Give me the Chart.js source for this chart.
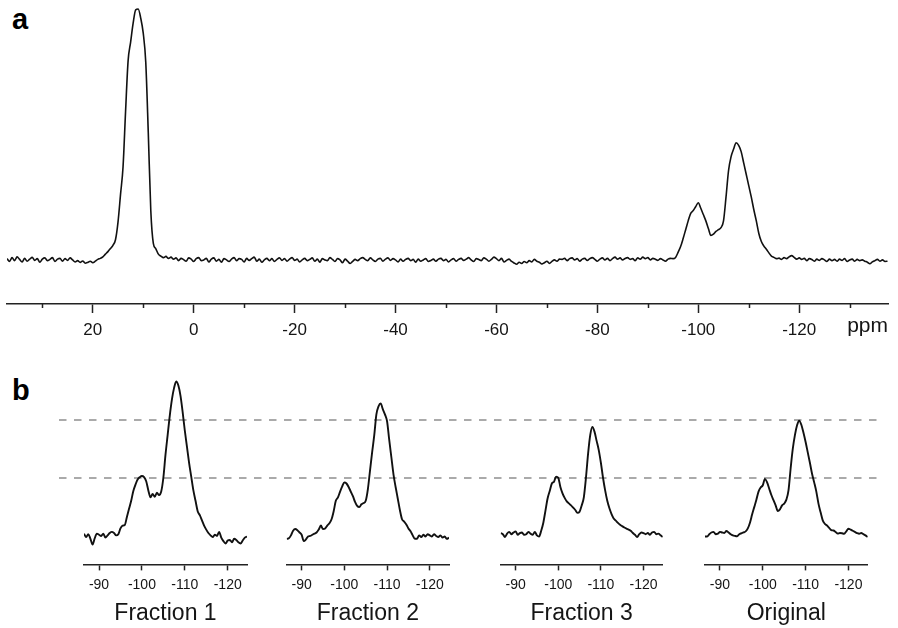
<!DOCTYPE html>
<html>
<head>
<meta charset="utf-8">
<title>29Si MAS NMR spectra</title>
<script src="https://cdn.jsdelivr.net/npm/chart.js@4.4.1/dist/chart.umd.min.js"></script>
<style>
  html, body { margin: 0; padding: 0; background: #fff; }
  #fig { position: relative; width: 898px; height: 628px; overflow: hidden; background: #fff;
         font-family: 'Liberation Sans', Arial, Helvetica, sans-serif; }
  #fig canvas { position: absolute; }
  .tag { position: absolute; left: 12px; font-weight: bold; font-size: 29px; line-height: 29px; color: #000; }
</style>
</head>
<body>
<div id="fig">
  <div class="tag" style="top:4.5px">a</div>
  <div class="tag" style="top:375.5px">b</div>
  <canvas id="specA" width="898" height="344" style="left:0;top:0"></canvas>
</div>
<script>
// ---------- data ----------
// Full spectrum: intensity sampled every 0.5 ppm from 37.0 down to -137.5 ppm
const ppmA0 = 37.0;
const ppmStepA = 0.5;
const spectrumA = [
  0.5, -0.6, 0.9, -0.3, 1.2, 0.2, -0.8, 0.6, -0.5, 0.3,
  1.0, -0.2, 0.5, -0.9, 0.3, 0.8, -0.3, 0.2, 0.9, -0.6,
  0.3, 0.6, -0.5, 0.5, -0.2, 0.8, 0.0, -0.8, -0.3, -1.0,
  -0.4, -1.3, -1.0, -0.5, -1.1, -0.5, 0.2, 0.6, 1.2, 2.3,
  3.3, 4.5, 5.8, 8.0, 15, 26, 37, 59, 79, 86.5,
  94, 99.3, 99.6, 96, 90, 78.5, 50.5, 19.5, 6.6, 4.4,
  2.3, 1.5, 0.9, 1.4, 0.6, 1.1, 0.3, 0.8, -0.3, 0.6,
  0.1, -0.5, 0.8, 0.3, -0.6, 0.5, 0.9, -0.3, 0.0, 0.6,
  -0.8, 0.3, 0.8, -0.5, 0.2, -0.9, 0.5, 0.0, -0.6, 0.3,
  0.9, -0.3, 0.5, 0.2, -0.8, 0.6, -0.2, 0.5, 1.1, -0.5,
  0.3, -0.9, 0.0, 0.6, -0.3, 0.5, -0.6, 0.2, 0.8, -0.2,
  0.5, -0.5, 0.3, 0.9, -0.2, 0.3, -0.8, 0.0, 0.6, -0.3,
  0.2, 0.8, -0.5, 0.3, -0.9, 0.5, 0.0, -0.3, 0.9, 0.2,
  -0.6, 0.5, 0.0, -1.1, 0.3, -0.5, -1.4, -0.6, 0.2, -0.3,
  0.5, 0.9, 0.2, -0.3, 0.8, 0.0, -0.6, 0.3, 0.6, -0.5,
  0.3, 0.8, -0.2, 0.5, 0.0, -0.8, 0.3, -0.5, 0.2, 0.6,
  -0.3, 0.2, -0.9, 0.3, -0.5, 0.0, 0.5, -0.6, -0.2, 0.3,
  -0.5, 0.3, 0.6, -0.3, 0.2, -0.8, 0.0, 0.5, -0.5, 0.2,
  0.6, -0.2, 0.3, 0.9, 0.0, -0.6, 0.5, 0.2, -0.3, 0.8,
  0.3, -0.5, 0.2, 1.1, 0.5, -0.3, 0.6, -0.8, -0.2, 0.3,
  -0.6, -1.2, -1.7, -0.9, -1.4, -0.6, -1.1, -0.3, -0.8, 0.2,
  -0.5, -0.9, -1.6, -1.1, -0.5, -1.4, -0.6, 0.0, -0.5, 0.3,
  0.2, 0.6, -0.3, 0.5, 0.8, 0.0, 0.5, -0.5, 0.3, 0.6,
  -0.2, 0.5, 0.9, 0.2, -0.5, 0.3, 0.8, 0.0, 0.6, -0.3,
  0.5, 1.1, 0.3, 0.8, 0.0, 0.6, 0.9, 0.2, 0.5, -0.3,
  0.8, 0.3, 1.1, 0.5, 0.9, 0.0, 0.6, 0.3, -0.2, 0.5,
  0.0, -0.5, 0.3, 0.6, 0.5, 1.0, 3.0, 5.3, 8.5, 12,
  15.5, 18.5, 19.6, 21.2, 22.7, 20.5, 18, 15.5, 12.5, 9.7,
  10.2, 11.3, 12, 12.8, 15.5, 25, 35.5, 41, 44, 46.5,
  45.5, 43, 38.5, 34, 29.5, 25, 20, 15.5, 10.5, 7.3,
  5.5, 4.2, 2.8, 1.5, 1.0, 0.5, 0.7, 0.2, 0.9, 0.5,
  1.2, 1.7, 1.0, 0.3, 0.8, 0.2, 0.6, -0.3, 0.5, 0.2,
  -0.5, 0.3, -0.2, 0.5, 0.0, -0.6, 0.3, -0.3, 0.2, -0.5,
  0.3, -0.2, 0.5, -0.6, 0.0, 0.3, -0.5, 0.2, -0.3, 0.0,
  -0.5, -0.9, -1.5, -0.8, -0.3, 0.2, -0.5, 0.0, -0.6, -0.5
];

// Q-region spectra: intensity sampled every 0.5 ppm from -86.5 down to -124.5 ppm
const ppmB0 = -86.5;
const ppmStepB = 0.5;
const fraction1 = [
  1.5, -1.5, 1, -3, -8, -2.5, 1.5, 0.5, -0.5, 1.5,
  -2, 0, 2, 3, 2, 0, 1, 6, 8.5, 9,
  16, 23, 30, 38.5, 44, 48.5, 50.5, 51.5, 50.5, 47,
  39, 33, 36, 33.5, 37, 35, 38, 50, 70, 87,
  104, 118, 128, 133.5, 130, 121, 107, 91, 77, 63,
  51, 39, 30, 21, 17.5, 13, 8.5, 5, 2, 0,
  -1.5, 0.5, -0.5, 3, -2, -5, -7, -4.5, -4, -6,
  -3, -4, -6, -7, -4.5, -2, -1
];
const fraction2 = [
  -3, -2.5, 0, 4, 5.5, 4.5, 2.5, 0.5, -5, -3.5,
  -1, -0.5, 0.5, 1.5, 2.5, 5, 8.5, 5.5, 6, 8.5,
  10.5, 14, 21, 30, 33, 38, 42.5, 46, 45, 42,
  38, 34, 29, 25.5, 24.5, 27, 28, 30, 40, 56,
  72, 87, 105, 112, 114.5, 109.5, 105, 99, 83, 68,
  53, 42, 32, 22, 14, 12, 9.5, 6, 3.5, 0,
  -3, -3, 0, -1.5, 0.5, -1, 1, 0, -1, 1,
  -0.5, -1.5, 0, -2, -1, -3, -2
];
const fraction3 = [
  2, 1, -1.5, 1.5, 3, 1, 2.5, 3.5, 0.5, 2,
  2.5, 0.5, 1, 3, 1.5, 0.5, 3, 0, -1, 4,
  11, 21.5, 32, 38.5, 45, 46.5, 51, 50, 42, 36.5,
  32.5, 29.5, 27.8, 26, 24, 22, 19.5, 20.5, 26, 33,
  50, 71, 87, 94, 90, 82, 74, 63, 50, 39,
  30, 23.5, 18.5, 14.7, 12.8, 10.8, 9.2, 8, 6.8, 5.8,
  5, 4, 2, 0.5, -1.4, 1, 2.5, 2, 1, 2,
  0.5, 2.5, 3, 1, 1.5, 0, -1.5
];
const original = [
  -1, -1, 1, 2.5, 3, 1, 1.5, 3, 2.5, 2,
  3.8, 2.5, 1, 0, -0.5, -0.8, 1, 1.8, 2.5, 3.5,
  6, 11, 18, 24.5, 31, 38, 41.5, 43.5, 49, 46,
  40.5, 35, 30.5, 26, 21, 22.5, 26, 27.5, 31, 39,
  58, 75, 87, 95.5, 99.5, 96, 89, 81, 72, 63,
  53.5, 46, 38, 27.5, 20, 13, 10, 8.5, 6.5, 4.5,
  4.2, 3, 1.6, 2, 1.8, 1.4, 3.5, 5.8, 5, 4,
  3, 2, 1.4, 2, 1, 0, -1.4
];

const panelNames = ['Fraction 1', 'Fraction 2', 'Fraction 3', 'Original'];
const panelSeries = [fraction1, fraction2, fraction3, original];
// reference intensities of the original sample (Q4 and Q3 maxima)
const guideLevels = [100, 50];

// ---------- helpers ----------
const FONT = "'Liberation Sans', Arial, Helvetica, sans-serif";
Chart.defaults.font.family = FONT;
Chart.defaults.color = '#151515';

function toPoints(x0, dx, ys) {
  return ys.map((y, i) => ({ x: +(x0 - i * dx).toFixed(2), y: y }));
}

// short ticks at the odd tens of the ppm axis
const minorTicks = {
  id: 'minorTicks',
  afterDraw(chart, args, opts) {
    if (!opts || !opts.length) return;
    const sc = chart.scales.x, ctx = chart.ctx;
    ctx.save();
    ctx.strokeStyle = opts.color;
    ctx.lineWidth = opts.width;
    sc.ticks.forEach(t => {
      if (t.value % opts.major !== 0) {
        const x = Math.round(sc.getPixelForValue(t.value)) + 0.5;
        ctx.beginPath();
        ctx.moveTo(x, sc.top);
        ctx.lineTo(x, sc.top + opts.length);
        ctx.stroke();
      }
    });
    ctx.restore();
  }
};

// unit label at the right end of the ppm axis
const unitLabel = {
  id: 'unitLabel',
  afterDraw(chart, args, opts) {
    if (!opts || !opts.text) return;
    const a = chart.chartArea, ctx = chart.ctx;
    ctx.save();
    ctx.font = opts.size + 'px ' + FONT;
    ctx.fillStyle = opts.color;
    ctx.textAlign = 'right';
    ctx.textBaseline = 'alphabetic';
    ctx.fillText(opts.text, a.right, a.bottom + opts.dy);
    ctx.restore();
  }
};

// dashed horizontal guides at fixed intensities, running across the whole row
const guideLines = {
  id: 'guideLines',
  beforeDatasetsDraw(chart, args, opts) {
    if (!opts || !opts.levels) return;
    const y = chart.scales.y, ctx = chart.ctx;
    const from = opts.from, to = opts.to;
    const period = opts.dash[0] + opts.dash[1];
    ctx.save();
    ctx.strokeStyle = opts.color;
    ctx.lineWidth = opts.width;
    ctx.setLineDash(opts.dash);
    ctx.lineDashOffset = ((opts.pageLeft + from - opts.origin) % period + period) % period;
    opts.levels.forEach(v => {
      const py = Math.round(y.getPixelForValue(v));
      ctx.beginPath();
      ctx.moveTo(from, py);
      ctx.lineTo(to, py);
      ctx.stroke();
    });
    ctx.restore();
  }
};

// ---------- panel a: full spectrum ----------
new Chart(document.getElementById('specA'), {
  type: 'line',
  data: {
    datasets: [{
      data: toPoints(ppmA0, ppmStepA, spectrumA),
      borderColor: '#111',
      borderWidth: 1.6,
      pointRadius: 0,
      cubicInterpolationMode: 'monotone',
      borderJoinStyle: 'round',
      fill: false
    }]
  },
  options: {
    responsive: false,
    devicePixelRatio: 1,
    animation: false,
    events: [],
    layout: { padding: { left: 7, right: 10, top: 5, bottom: 0 } },
    plugins: {
      legend: { display: false },
      tooltip: { enabled: false },
      minorTicks: { major: 20, length: 4, width: 1.5, color: '#222' },
      unitLabel: { text: 'ppm', size: 21, dy: 28, color: '#151515' }
    },
    scales: {
      x: {
        type: 'linear',
        reverse: true,
        min: -137.6,
        max: 37,
        afterFit(scale) { scale.height = 40; },
        border: { display: true, color: '#222', width: 1.5 },
        grid: {
          display: true,
          drawOnChartArea: false,
          drawTicks: true,
          tickLength: 9,
          tickWidth: 1.5,
          tickColor: c => (c.tick && c.tick.value % 20 === 0) ? '#222' : 'rgba(0,0,0,0)'
        },
        ticks: {
          stepSize: 10,
          includeBounds: false,
          autoSkip: false,
          maxRotation: 0,
          padding: 7,
          font: { size: 17 },
          color: '#151515',
          callback: v => (v % 20 === 0) ? String(v) : ''
        }
      },
      y: { display: false, min: -17.5, max: 101.2 }
    }
  },
  plugins: [minorTicks, unitLabel]
});

// ---------- panel b: Q-region of each sample ----------
const slots = [
  { left: 40,  width: 230, padL: 44,   padR: 23 },
  { left: 270, width: 205, padL: 16.7, padR: 26 },
  { left: 475, width: 210, padL: 25.7, padR: 22.3 },
  { left: 685, width: 213, padL: 20,   padR: 30.3 }
];
const guideStart = 59, guideEnd = 877;

panelNames.forEach((name, k) => {
  const s = slots[k];
  const cv = document.createElement('canvas');
  cv.width = s.width;
  cv.height = 272;
  cv.style.left = s.left + 'px';
  cv.style.top = '360px';
  document.getElementById('fig').appendChild(cv);

  new Chart(cv, {
    type: 'line',
    data: {
      datasets: [{
        data: toPoints(ppmB0, ppmStepB, panelSeries[k]),
        borderColor: '#111',
        borderWidth: 1.9,
        pointRadius: 0,
        cubicInterpolationMode: 'monotone',
        borderJoinStyle: 'round',
        fill: false
      }]
    },
    options: {
      responsive: false,
      devicePixelRatio: 1,
      animation: false,
      events: [],
      layout: { padding: { left: s.padL, right: s.padR, top: 10, bottom: 0 } },
      plugins: {
        legend: { display: false },
        tooltip: { enabled: false },
        title: {
          display: true,
          text: name,
          position: 'bottom',
          color: '#151515',
          font: { size: 23, weight: 'normal' },
          padding: { top: 5, bottom: 5 }
        },
        guideLines: {
          levels: guideLevels,
          from: Math.max(0, guideStart - s.left),
          to: Math.min(s.width, guideEnd - s.left),
          pageLeft: s.left,
          origin: guideStart,
          dash: [7.5, 7.5],
          width: 2,
          color: '#aaaaaa'
        }
      },
      scales: {
        x: {
          type: 'linear',
          reverse: true,
          min: -124.5,
          max: -86.5,
          afterFit(scale) { scale.height = 30; },
          border: { display: true, color: '#222', width: 1.5 },
          grid: {
            display: true,
            drawOnChartArea: false,
            drawTicks: true,
            tickLength: 6,
            tickWidth: 1.5,
            tickColor: '#222'
          },
          ticks: {
            stepSize: 10,
            includeBounds: false,
            autoSkip: false,
            maxRotation: 0,
            padding: 6,
            font: { size: 14 },
            color: '#151515',
            callback: v => String(v)
          }
        },
        y: { display: false, min: -25.2, max: 143.5 }
      }
    },
    plugins: [guideLines]
  });
});
</script>
</body>
</html>
